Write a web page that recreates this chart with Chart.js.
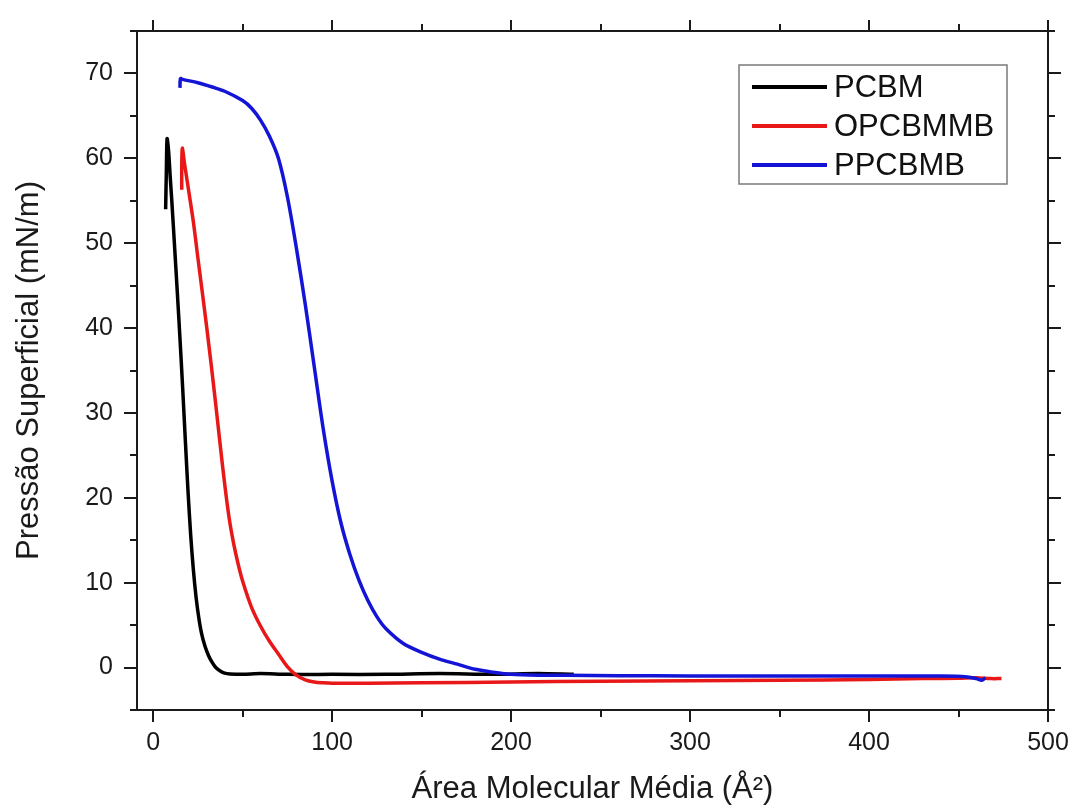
<!DOCTYPE html>
<html>
<head>
<meta charset="utf-8">
<script src="https://cdn.jsdelivr.net/npm/chart.js@4.4.1/dist/chart.umd.min.js"></script>
<style>
  html, body { margin: 0; padding: 0; background: #fff; }
  #wrap { width: 1074px; height: 810px; position: relative; }
</style>
</head>
<body>
<div id="wrap"><canvas id="c" width="1074" height="810"></canvas></div>
<script>
// ---- Data ----
const seriesNames = ['PCBM', 'OPCBMMB', 'PPCBMB'];
const seriesColors = ['#000000', '#e81818', '#1414d6'];

const pcbmArea = [7.0, 7.4, 7.8, 8.6, 9.5, 10.5, 12, 13.5, 15, 16.5, 18, 19.5, 21, 22.5, 24, 25.5, 27, 29, 31, 33, 35, 37.5, 40, 43, 50, 60, 75, 100, 130, 160, 190, 215, 235];
const pcbmPressure = [54.0, 58.5, 62.3, 61.0, 58.0, 54.8, 49.6, 44.3, 38.8, 33.0, 26.8, 20.8, 15.6, 11.5, 8.3, 5.9, 4.1, 2.5, 1.4, 0.6, 0.0, -0.4, -0.65, -0.75, -0.8, -0.7, -0.8, -0.8, -0.8, -0.7, -0.8, -0.7, -0.8];

const opcbmmbArea = [16.0, 16.0, 16.3, 17.6, 20, 22.5, 25, 27.5, 30, 32.5, 35, 37.5, 40, 42.5, 45, 47.5, 50, 55, 60, 65, 70, 75, 80, 85, 90, 95, 100, 120, 150, 200, 250, 300, 350, 400, 430, 450, 460, 468, 474];
const opcbmmbPressure = [56.3, 58.8, 61.2, 59.3, 56.0, 52.5, 48.3, 44.2, 40.0, 35.6, 31.0, 26.2, 21.6, 17.6, 14.6, 12.2, 10.2, 7.1, 4.9, 3.1, 1.6, 0.1, -0.9, -1.45, -1.7, -1.8, -1.85, -1.85, -1.8, -1.7, -1.6, -1.55, -1.5, -1.4, -1.3, -1.25, -1.2, -1.3, -1.3];

const ppcbmbArea = [15.0, 15.3, 16.5, 25, 33, 40, 50, 55, 60, 65, 70, 75, 80, 85, 90, 95, 100, 105, 110, 115, 120, 125, 130, 140, 150, 160, 170, 180, 190, 200, 215, 230, 260, 300, 350, 400, 440, 455, 460, 463, 465];
const ppcbmbPressure = [68.3, 69.4, 69.3, 68.9, 68.4, 67.9, 66.8, 65.9, 64.5, 62.6, 60.0, 55.5, 49.5, 42.8, 35.5, 28.2, 22.0, 17.0, 13.3, 10.3, 7.9, 6.0, 4.6, 2.8, 1.8, 1.0, 0.4, -0.2, -0.55, -0.8, -0.9, -0.9, -0.95, -1.0, -1.0, -1.0, -1.0, -1.1, -1.3, -1.5, -1.2];

const xTickValues = [0, 50, 100, 150, 200, 250, 300, 350, 400, 450, 500];
const yTickValues = [-5, 0, 5, 10, 15, 20, 25, 30, 35, 40, 45, 50, 55, 60, 65, 70, 75];
const xMajorStep = 100;
const yMajorStep = 10;

const xTitle = 'Área Molecular Média (Å²)';
const yTitle = 'Pressão Superficial (mN/m)';

// ---- Build datasets ----
function pts(xs, ys) { return xs.map((x, i) => ({ x: x, y: ys[i] })); }
const allSeries = [
  pts(pcbmArea, pcbmPressure),
  pts(opcbmmbArea, opcbmmbPressure),
  pts(ppcbmbArea, ppcbmbPressure)
];
const datasets = allSeries.map((d, i) => ({
  label: seriesNames[i],
  data: d,
  borderColor: seriesColors[i],
  backgroundColor: seriesColors[i],
  borderWidth: 3.5,
  pointRadius: 0,
  showLine: true,
  tension: 0.3,
  fill: false,
  order: 3 - i
}));

const FONT = "'Liberation Sans', Arial, sans-serif";
const INK = '#1a1a1a';

// Frame, ticks on all four sides, and inset legend
const framePlugin = {
  id: 'frame',
  afterDraw(chart) {
    const ctx = chart.ctx;
    const a = chart.chartArea;
    const xs = chart.scales.x, ys = chart.scales.y;
    ctx.save();
    ctx.strokeStyle = INK;
    ctx.lineWidth = 2;
    ctx.strokeRect(a.left, a.top, a.right - a.left, a.bottom - a.top);
    ctx.beginPath();
    xTickValues.forEach(v => {
      const px = Math.round(xs.getPixelForValue(v));
      const major = v % xMajorStep === 0;
      const lb = major ? 12 : 7;
      const lt = major ? 11 : 7;
      ctx.moveTo(px, a.bottom); ctx.lineTo(px, a.bottom + lb);
      ctx.moveTo(px, a.top); ctx.lineTo(px, a.top - lt);
    });
    yTickValues.forEach(v => {
      const py = Math.round(ys.getPixelForValue(v));
      const major = v % yMajorStep === 0;
      const l = major ? 13 : 7;
      ctx.moveTo(a.left, py); ctx.lineTo(a.left - l, py);
      ctx.moveTo(a.right, py); ctx.lineTo(a.right + l, py);
    });
    ctx.stroke();

    // Legend box
    const bx = 739, by = 65, bw = 268, bh = 119;
    ctx.strokeStyle = '#7a7a7a';
    ctx.lineWidth = 1.5;
    ctx.strokeRect(bx, by, bw, bh);
    ctx.font = '31px ' + FONT;
    ctx.textBaseline = 'middle';
    ctx.textAlign = 'left';
    chart.data.datasets.forEach((ds, i) => {
      const y = 87 + i * 39;
      ctx.strokeStyle = ds.borderColor;
      ctx.lineWidth = 4;
      ctx.beginPath();
      ctx.moveTo(752, y); ctx.lineTo(827, y);
      ctx.stroke();
      ctx.fillStyle = '#111';
      ctx.fillText(ds.label, 834, y + 1);
    });
    ctx.restore();
  }
};

new Chart(document.getElementById('c'), {
  type: 'scatter',
  data: { datasets: datasets },
  options: {
    responsive: false,
    animation: false,
    layout: { padding: { left: 0, right: 26, top: 31, bottom: 0 } },
    plugins: {
      legend: { display: false },
      tooltip: { enabled: false }
    },
    scales: {
      x: {
        type: 'linear',
        min: -9,
        max: 500,
        afterBuildTicks: s => { s.ticks = xTickValues.map(v => ({ value: v })); },
        afterFit: s => { s.height = 100; s.paddingLeft = 0; s.paddingRight = 0; },
        grid: { display: false, drawTicks: false },
        border: { display: false },
        ticks: {
          autoSkip: false,
          maxRotation: 0,
          padding: 18,
          color: INK,
          font: { family: FONT, size: 25 },
          callback: v => (v % xMajorStep === 0 ? String(v) : '')
        },
        title: {
          display: true,
          text: xTitle,
          color: INK,
          font: { family: FONT, size: 31 },
          padding: { top: 0, bottom: 2 }
        }
      },
      y: {
        type: 'linear',
        min: -5,
        max: 75,
        afterBuildTicks: s => { s.ticks = yTickValues.map(v => ({ value: v })); },
        afterFit: s => { s.width = 137; s.paddingTop = 0; s.paddingBottom = 0; },
        grid: { display: false, drawTicks: false },
        border: { display: false },
        ticks: {
          autoSkip: false,
          padding: 24,
          color: INK,
          font: { family: FONT, size: 25 },
          callback: v => (v % yMajorStep === 0 && v >= 0 && v <= 70 ? String(v) : '')
        },
        title: {
          display: true,
          text: yTitle,
          color: INK,
          font: { family: FONT, size: 31 },
          padding: { top: 11, bottom: 0 }
        }
      }
    }
  },
  plugins: [framePlugin]
});
</script>
</body>
</html>
